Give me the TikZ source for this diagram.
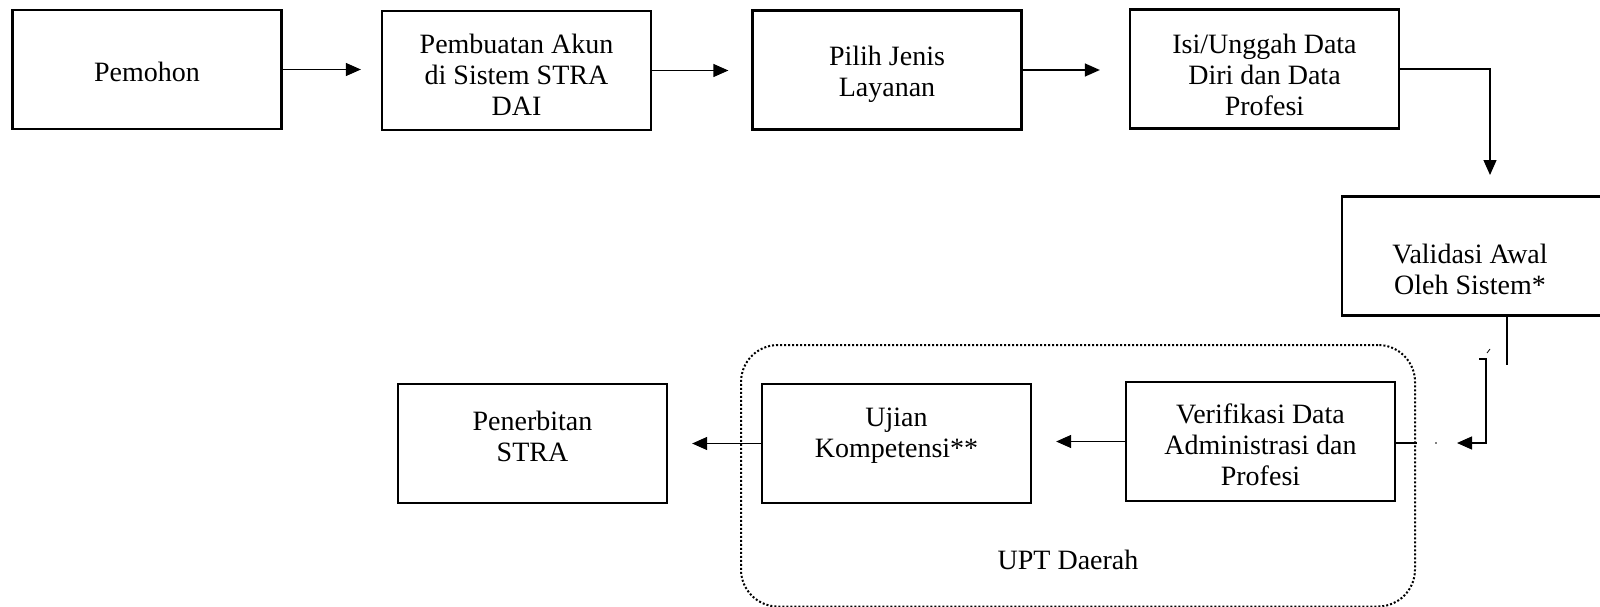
\documentclass[tikz,border=0pt]{standalone}
\usepackage{fontspec}
\setmainfont{Liberation Serif}
\usetikzlibrary{arrows.meta,calc}
\begin{document}
\begin{tikzpicture}[x=1pt,y=-1pt,
  box/.style={draw, line width=2.3pt, minimum width=269pt, minimum height=119pt, inner sep=0pt},
  txt/.style={align=center, font=\fontsize{28}{31}\selectfont, inner sep=0pt},
  conn/.style={line width=1.3pt},
  arr/.style={conn, -{Triangle[length=15pt,width=13pt]}},
  group/.style={draw, line width=2pt, dash pattern=on 2pt off 2pt, rounded corners=37pt, minimum width=674pt, minimum height=261.5pt, inner sep=0pt}
]
\useasboundingbox (0,0) rectangle (1600,607);
% group
\node[group] (upt) at (1078,475.75) {};
\node[txt] (upttxt) at (1068,560) {UPT Daerah};
% boxes
\node[box] (pem) at (147,69.5) {};
\node[box] (pba) at (516.5,70.5) {};
\node[box] (pil) at (887,70) {};
\node[box] (isi) at (1264.5,69) {};
\node[box, minimum width=272pt] (val) at (1478,256) {};
\node[box] (pen) at (532.5,443.5) {};
\node[box] (uji) at (896.5,443.5) {};
\node[box] (ver) at (1260.5,441.5) {};
% texts
\node[txt] (tpem) at (147,71.5) {Pemohon};
\node[txt] (tpba) at (516.5,75) {Pembuatan Akun\\di Sistem STRA\\DAI};
\node[txt] (tpil) at (887,74) {Pilih Jenis\\Layanan};
\node[txt] (tisi) at (1264.5,75) {Isi/Unggah Data\\Diri dan Data\\Profesi};
\node[txt] (tval) at (1470,269.5) {Validasi Awal\\Oleh Sistem*};
\node[txt] (tpen) at (532.5,436) {Penerbitan\\STRA};
\node[txt] (tuji) at (896.5,436) {Ujian\\Kompetensi**};
\node[txt] (tver) at (1260.5,444.5) {Verifikasi Data\\Administrasi dan\\Profesi};
% connectors top row
\draw[arr, shorten >=20pt] (pem.east) -- (pem.east -| pba.west);
\draw[arr, shorten >=23pt] (pba.east) -- (pba.east -| pil.west);
\draw[arr, shorten >=29pt] (pil.east) -- (pil.east -| isi.west);
\coordinate (a1) at (1490,175);
\draw[arr] (isi.east) -| (a1);
% validasi to verifikasi (broken connector)
\coordinate (c1) at (1507,365);
\draw[conn] (val.south -| c1) -- (c1);
\coordinate (b0) at (1479,359);
\coordinate (b1) at (1486,359);
\coordinate (b2) at (1457,443);
\draw[arr] (b0) -- (b1) |- (b2);
\draw[line width=0.8pt] (1487,353) -- (1490,349);
\fill (1436,443) circle (0.8pt);
\coordinate (d1) at (1417,443);
\draw[conn] (ver.east |- d1) -- (d1);
% bottom row
\draw[arr, shorten >=24pt] (ver.west) -- (ver.west -| uji.east);
\draw[arr, shorten >=24pt] (uji.west) -- (uji.west -| pen.east);
\end{tikzpicture}
\end{document}
